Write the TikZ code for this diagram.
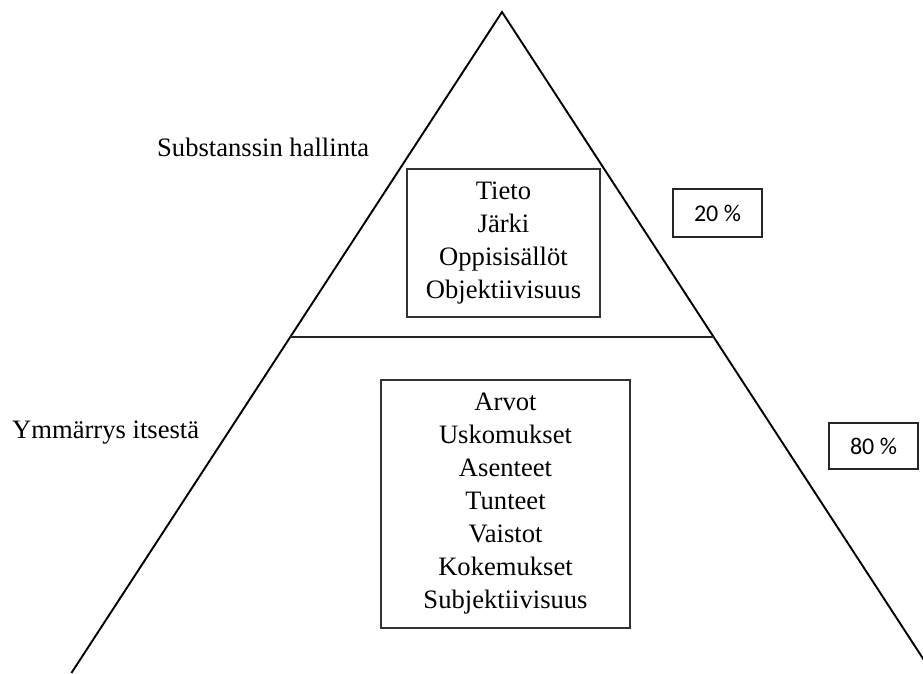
\documentclass[tikz,border=0pt]{standalone}
\usepackage{fontspec}
\setmainfont{Liberation Serif}
\newfontfamily\calib{Carlito}
\begin{document}
\begin{tikzpicture}[x=1pt,y=-1pt,
  triline/.style={line width=1.9pt, black, line join=miter},
  midline/.style={line width=1.2pt, black!85},
  listbox/.style={draw=black!80, line width=1.3pt, align=center, inner sep=0pt,
    font=\fontsize{26.6}{33}\selectfont},
  pctbox/.style={draw=black!85, line width=1.3pt, inner sep=0pt,
    font=\calib\fontsize{24}{28}\selectfont},
  lbl/.style={anchor=west, inner sep=0pt, font=\fontsize{26.6}{33}\selectfont}]
\useasboundingbox (0,0) rectangle (923,673);
\clip (0,0) rectangle (923,673);
\coordinate (apex) at (502,12);
\coordinate (bl) at (71.4,673);
\coordinate (br) at (932.4,673);
\coordinate (ml) at (290.3,337);
\coordinate (mr) at (713.7,337);
\draw[triline] (bl) -- (apex) -- (br);
\draw[midline] (ml) -- (mr);
\node[listbox, minimum width=193pt, minimum height=148pt] (top) at (503.5,243)
  {Tieto\\Järki\\Oppisisällöt\\Objektiivisuus};
\node[listbox, minimum width=249pt, minimum height=248pt] (bottom) at (505.5,504)
  {Arvot\\Uskomukset\\Asenteet\\Tunteet\\Vaistot\\Kokemukset\\Subjektiivisuus};
\node[lbl] (subst) at (157,147) {Substanssin hallinta};
\node[lbl] (ymm) at (12,433) {Ymmärrys itsestä};
\node[pctbox, minimum width=89pt, minimum height=48pt] (p20) at (717.5,213) {20 \%};
\node[pctbox, minimum width=89pt, minimum height=46pt] (p80) at (873.5,446) {80 \%};
\end{tikzpicture}
\end{document}
